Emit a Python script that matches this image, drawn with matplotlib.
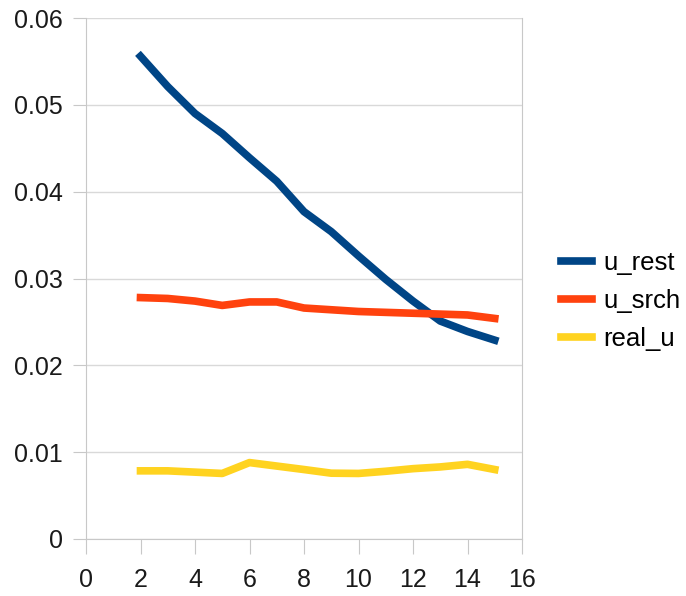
import matplotlib
matplotlib.use("Agg")
import matplotlib.pyplot as plt

plt.rcParams['font.family'] = ['Liberation Sans', 'DejaVu Sans']

# values
x = [2, 3, 4, 5, 6, 7, 8, 9, 10, 11, 12, 13, 14, 15]
u_rest = [0.0556, 0.0521, 0.0490, 0.0467, 0.0439, 0.0412, 0.0377, 0.0354,
          0.0326, 0.0299, 0.0274, 0.0251, 0.0239, 0.0229]
u_srch = [0.0278, 0.0277, 0.0274, 0.0269, 0.0273, 0.0273, 0.0266, 0.0264,
          0.0262, 0.0261, 0.0260, 0.0259, 0.0258, 0.0254]
real_u = [0.00785, 0.00785, 0.0077, 0.00755, 0.0088, 0.0084, 0.0080, 0.00758,
          0.00755, 0.0078, 0.0081, 0.0083, 0.0086, 0.0080]

xticks = list(range(0, 17, 2))
yticks = [0, 0.01, 0.02, 0.03, 0.04, 0.05, 0.06]
ytick_labels = ["0", "0.01", "0.02", "0.03", "0.04", "0.05", "0.06"]

fig = plt.figure(figsize=(6.86, 5.96), dpi=100)
ax = fig.add_axes([86 / 686, 57 / 596, 436 / 686, 521 / 596])

lw = 5.5
ax.plot(x, u_rest, color="#004586", lw=lw, label="u_rest")
ax.plot(x, u_srch, color="#ff420e", lw=lw, label="u_srch")
ax.plot(x, real_u, color="#ffd320", lw=lw, label="real_u")

ax.set_xlim(0, 16)
ax.set_ylim(0, 0.06)
ax.set_xticks(xticks)
ax.set_yticks(yticks)
ax.set_yticklabels(ytick_labels)
ax.grid(axis="y", color="#d9d9d9", lw=1)
ax.set_axisbelow(True)
for s in ["left", "bottom", "right"]:
    ax.spines[s].set_color("#c8c8c8")
ax.spines["top"].set_visible(False)
ax.tick_params(axis="both", direction="out", color="#c8c8c8",
               labelsize=18, labelcolor="#1a1a1a")
ax.tick_params(axis="x", length=11, pad=10)
ax.tick_params(axis="y", length=9.5, pad=7)

ax.legend(loc="center left", bbox_to_anchor=(561 / 686, 1 - 301 / 596),
          bbox_transform=fig.transFigure, frameon=False, borderpad=0,
          borderaxespad=0, fontsize=18.5, handlelength=1.2,
          labelspacing=0.55, handletextpad=0.45)

fig.savefig("out.png", dpi=100)
